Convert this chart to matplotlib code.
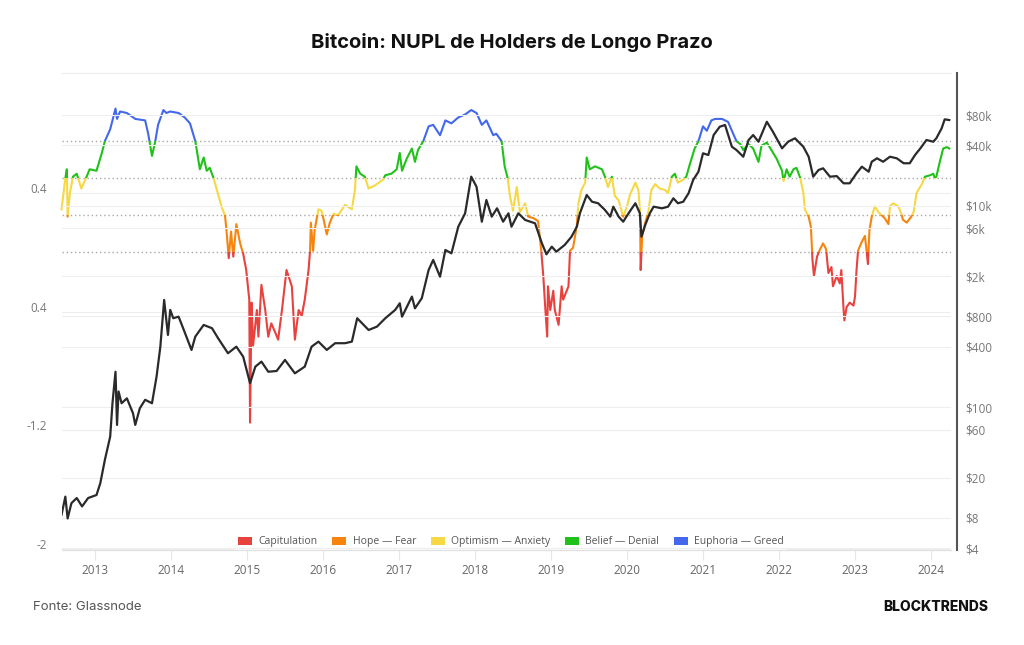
import numpy as np
import matplotlib.pyplot as plt
import matplotlib.transforms as mtransforms
from matplotlib.patches import Rectangle, Patch

# LTH-NUPL (decimal year, value)
nupl_t = [2012.56, 2012.61, 2012.63, 2012.64, 2012.67, 2012.71, 2012.76, 2012.82, 2012.89, 2012.93,
          2013.02, 2013.09, 2013.13, 2013.20, 2013.27, 2013.29, 2013.33, 2013.42, 2013.53, 2013.66,
          2013.70, 2013.75, 2013.79, 2013.83, 2013.90, 2013.94, 2013.99, 2014.10, 2014.18, 2014.25,
          2014.32, 2014.38, 2014.43, 2014.47, 2014.51, 2014.56, 2014.62, 2014.67, 2014.71, 2014.73,
          2014.76, 2014.79, 2014.82, 2014.86, 2014.91, 2014.95, 2014.99, 2015.03, 2015.04, 2015.06,
          2015.08, 2015.13, 2015.15, 2015.19, 2015.24, 2015.28, 2015.32, 2015.37, 2015.41, 2015.46,
          2015.52, 2015.59, 2015.63, 2015.68, 2015.72, 2015.76, 2015.81, 2015.83, 2015.84, 2015.87,
          2015.89, 2015.94, 2015.98, 2016.00, 2016.05, 2016.09, 2016.14, 2016.20, 2016.29, 2016.38,
          2016.42, 2016.44, 2016.49, 2016.55, 2016.60, 2016.68, 2016.79, 2016.82, 2016.90, 2016.97,
          2017.01, 2017.04, 2017.10, 2017.17, 2017.21, 2017.25, 2017.32, 2017.39, 2017.45, 2017.54,
          2017.61, 2017.69, 2017.78, 2017.87, 2017.95, 2018.02, 2018.09, 2018.15, 2018.24, 2018.28,
          2018.35, 2018.39, 2018.43, 2018.46, 2018.50, 2018.55, 2018.59, 2018.66, 2018.70, 2018.77,
          2018.83, 2018.87, 2018.90, 2018.92, 2018.95, 2018.96, 2018.99, 2019.03, 2019.05, 2019.10,
          2019.14, 2019.16, 2019.23, 2019.25, 2019.29, 2019.34, 2019.36, 2019.40, 2019.45, 2019.47,
          2019.51, 2019.58, 2019.67, 2019.71, 2019.75, 2019.80, 2019.84, 2019.89, 2019.95, 2020.00,
          2020.04, 2020.11, 2020.15, 2020.17, 2020.18, 2020.20, 2020.24, 2020.28, 2020.32, 2020.37,
          2020.43, 2020.50, 2020.54, 2020.59, 2020.63, 2020.67, 2020.74, 2020.78, 2020.83, 2020.89,
          2020.94, 2021.00, 2021.05, 2021.11, 2021.16, 2021.25, 2021.33, 2021.38, 2021.44, 2021.49,
          2021.53, 2021.60, 2021.66, 2021.73, 2021.77, 2021.84, 2021.90, 2021.97, 2022.04, 2022.06,
          2022.10, 2022.14, 2022.19, 2022.23, 2022.28, 2022.32, 2022.34, 2022.39, 2022.42, 2022.44,
          2022.46, 2022.50, 2022.54, 2022.58, 2022.62, 2022.65, 2022.69, 2022.71, 2022.76, 2022.80,
          2022.82, 2022.85, 2022.86, 2022.89, 2022.93, 2022.98, 2023.00, 2023.02, 2023.04, 2023.08,
          2023.13, 2023.15, 2023.17, 2023.19, 2023.22, 2023.26, 2023.31, 2023.35, 2023.39, 2023.44,
          2023.46, 2023.50, 2023.57, 2023.61, 2023.63, 2023.68, 2023.74, 2023.77, 2023.81, 2023.88,
          2023.92, 2023.99, 2024.03, 2024.05, 2024.07, 2024.12, 2024.16, 2024.21, 2024.24]
nupl_v = [0.29, 0.50, 0.56, 0.24, 0.40, 0.51, 0.53, 0.43, 0.51, 0.56,
          0.55, 0.67, 0.75, 0.83, 0.97, 0.90, 0.95, 0.94, 0.90, 0.89,
          0.80, 0.65, 0.74, 0.86, 0.96, 0.94, 0.95, 0.94, 0.91, 0.87,
          0.75, 0.56, 0.64, 0.55, 0.57, 0.50, 0.39, 0.30, 0.25, 0.15,
          -0.04, 0.14, -0.03, 0.19, 0.06, -0.01, -0.12, -0.32, -1.15, -0.34,
          -0.63, -0.39, -0.57, -0.22, -0.39, -0.57, -0.48, -0.54, -0.59, -0.39,
          -0.12, -0.23, -0.59, -0.39, -0.43, -0.32, -0.12, 0.01, 0.20, 0.01,
          0.15, 0.29, 0.28, 0.24, 0.12, 0.20, 0.26, 0.25, 0.32, 0.29,
          0.42, 0.58, 0.53, 0.51, 0.43, 0.45, 0.49, 0.52, 0.53, 0.56,
          0.67, 0.55, 0.63, 0.70, 0.61, 0.69, 0.75, 0.85, 0.86, 0.79,
          0.89, 0.87, 0.91, 0.93, 0.96, 0.94, 0.86, 0.89, 0.79, 0.80,
          0.75, 0.58, 0.50, 0.38, 0.28, 0.44, 0.27, 0.33, 0.24, 0.23,
          0.21, 0.02, -0.17, -0.34, -0.57, -0.23, -0.39, -0.26, -0.39, -0.49,
          -0.23, -0.32, -0.23, 0.01, 0.03, 0.18, 0.33, 0.42, 0.47, 0.64,
          0.56, 0.58, 0.56, 0.51, 0.44, 0.51, 0.38, 0.35, 0.24, 0.31,
          0.39, 0.47, 0.42, 0.29, -0.12, 0.11, 0.20, 0.27, 0.42, 0.46,
          0.43, 0.42, 0.40, 0.51, 0.53, 0.47, 0.49, 0.51, 0.60, 0.70,
          0.75, 0.85, 0.82, 0.89, 0.90, 0.90, 0.88, 0.82, 0.75, 0.73,
          0.69, 0.73, 0.70, 0.61, 0.72, 0.74, 0.69, 0.63, 0.55, 0.48,
          0.56, 0.51, 0.56, 0.57, 0.50, 0.40, 0.29, 0.24, 0.17, -0.05,
          -0.16, -0.03, 0.02, 0.06, 0.02, -0.14, -0.10, -0.23, -0.16, -0.21,
          -0.12, -0.39, -0.46, -0.37, -0.34, -0.36, -0.30, -0.12, 0.01, 0.06,
          0.11, 0.02, -0.08, 0.15, 0.24, 0.31, 0.27, 0.25, 0.23, 0.19,
          0.31, 0.33, 0.31, 0.26, 0.22, 0.20, 0.24, 0.27, 0.40, 0.46,
          0.51, 0.52, 0.53, 0.50, 0.51, 0.62, 0.70, 0.71, 0.70]

# BTC price (decimal year, USD)
price_t = [2012.56, 2012.61, 2012.64, 2012.69, 2012.76, 2012.83, 2012.91, 2013.02, 2013.07, 2013.13,
           2013.20, 2013.23, 2013.27, 2013.29, 2013.31, 2013.35, 2013.42, 2013.50, 2013.53, 2013.59,
           2013.66, 2013.75, 2013.81, 2013.86, 2013.91, 2013.96, 2013.99, 2014.03, 2014.10, 2014.16,
           2014.27, 2014.32, 2014.43, 2014.54, 2014.62, 2014.75, 2014.86, 2014.95, 2015.04, 2015.11,
           2015.19, 2015.28, 2015.39, 2015.50, 2015.63, 2015.76, 2015.85, 2015.94, 2016.05, 2016.16,
           2016.29, 2016.38, 2016.45, 2016.60, 2016.71, 2016.82, 2016.95, 2017.01, 2017.04, 2017.17,
           2017.21, 2017.30, 2017.39, 2017.45, 2017.54, 2017.61, 2017.69, 2017.78, 2017.87, 2017.95,
           2018.02, 2018.09, 2018.15, 2018.22, 2018.29, 2018.37, 2018.44, 2018.48, 2018.57, 2018.66,
           2018.79, 2018.88, 2018.94, 2019.01, 2019.07, 2019.18, 2019.27, 2019.34, 2019.38, 2019.47,
           2019.54, 2019.62, 2019.71, 2019.78, 2019.82, 2019.89, 2019.95, 2020.02, 2020.11, 2020.17,
           2020.19, 2020.24, 2020.30, 2020.35, 2020.46, 2020.54, 2020.61, 2020.67, 2020.74, 2020.81,
           2020.87, 2020.94, 2021.00, 2021.07, 2021.14, 2021.22, 2021.29, 2021.38, 2021.44, 2021.53,
           2021.60, 2021.66, 2021.73, 2021.84, 2021.92, 2022.04, 2022.12, 2022.21, 2022.32, 2022.39,
           2022.45, 2022.52, 2022.58, 2022.67, 2022.76, 2022.85, 2022.93, 2023.02, 2023.09, 2023.18,
           2023.22, 2023.29, 2023.37, 2023.46, 2023.55, 2023.64, 2023.72, 2023.79, 2023.86, 2023.94,
           2024.03, 2024.07, 2024.14, 2024.18, 2024.24]
price_v = [8.6, 13.0, 7.9, 11.2, 12.6, 10.4, 12.6, 13.5, 17.7, 30.1,
           51.3, 110, 226, 67, 144, 110, 123, 87.5, 67, 98,
           119, 110, 202, 401, 1166, 524, 929, 768, 796, 611,
           372, 505, 659, 611, 486, 345, 401, 319, 174, 254,
           285, 226, 230, 296, 218, 254, 401, 450, 372, 434,
           434, 450, 768, 587, 634, 768, 929, 1081, 796, 1259,
           964, 1213, 2317, 2911, 1986, 3656, 3388, 6223, 8453, 19540,
           15520, 6980, 11460, 7830, 9480, 6980, 8453, 6223, 8453, 7260,
           6730, 4266, 3311, 3945, 3516, 4102, 4955, 6223, 8453, 12850,
           11020, 10640, 9120, 7830, 9840, 7830, 6980, 8453, 10640, 8453,
           4955, 6470, 8453, 9840, 9480, 9840, 11910, 10640, 11020, 13370,
           18110, 21880, 33340, 32060, 50600, 61200, 63650, 38750, 35940, 30830,
           45190, 50600, 43450, 68550, 54580, 37330, 43450, 46990, 38750, 30830,
           19540, 22750, 23660, 19540, 19800, 16790, 16790, 21090, 24550, 21880,
           27490, 29720, 27490, 30830, 29720, 26550, 26550, 32060, 37330, 45190,
           43450, 46990, 59020, 72440, 71290]

bands = [(-5, 0, '#E8423F'), (0, 0.25, '#F7840F'), (0.25, 0.5, '#F6D845'),
         (0.5, 0.75, '#20C21A'), (0.75, 5, '#4368EC')]
legend_labels = ['Capitulation', 'Hope — Fear', 'Optimism — Anxiety', 'Belief — Denial', 'Euphoria — Greed']
thresholds = [0, 0.25, 0.5, 0.75]
years = list(range(2013, 2025))
price_ticks = [4, 8, 20, 60, 100, 400, 800, 2000, 6000, 10000, 40000, 80000]
price_labels = ['$4', '$8', '$20', '$60', '$100', '$400', '$800', '$2k', '$6k', '$10k', '$40k', '$80k']

plt.rcParams['font.family'] = ['Open Sans', 'DejaVu Sans']

fig = plt.figure(figsize=(10.24, 6.45), dpi=100)
ax = fig.add_axes([62/1024, 1-550/645, (951-62)/1024, (550-73)/645])
ax2 = ax.twinx()

xmin, xmax = 2012.566, 2024.263
ax.set_xlim(xmin, xmax)
ax.set_ylim(-2.01, 1.21)
ax2.set_yscale('log')
ax2.set_ylim(3.84, 209000)

# light grid
for p in price_ticks:
    ax2.axhline(p, color='#eeeeee', lw=0.8, zorder=0)
for v in [-2, -1.2, -0.4, 0.4]:
    ax.axhline(v, color='#eeeeee', lw=0.8, zorder=0)
for v in thresholds:
    ax.axhline(v, color='#a8a8a8', lw=1, ls=(0, (1, 2)), zorder=1)

for lo, hi, c in bands:
    line, = ax.plot(nupl_t, nupl_v, color=c, lw=1.5, zorder=3)
    rect = Rectangle((xmin - 1, lo), xmax - xmin + 2, hi - lo, transform=ax.transData)
    line.set_clip_path(rect)

ax2.plot(price_t, price_v, color='#2a2a2a', lw=1.6, zorder=4)

ax.set_xticks(years)
ax.set_xticklabels([str(y) for y in years])
ax.tick_params(axis='x', length=7, color='#e6e6e6', pad=3, labelsize=8.5, labelcolor='#666666')
ax.set_yticks([-2, -1.2, -0.4, 0.4])
ax.set_yticklabels(['-2', '-1.2', '0.4', '0.4'])
ax.tick_params(axis='y', length=0, pad=11, labelsize=8.5, labelcolor='#777777')
ax2.yaxis.set_minor_locator(plt.NullLocator())
ax2.set_yticks(price_ticks)
ax2.set_yticklabels(price_labels)
ax2.yaxis.set_minor_locator(plt.NullLocator())
ax2.tick_params(axis='y', which='both', length=0, pad=6, labelsize=8.5, labelcolor='#777777')

offset = mtransforms.ScaledTranslation(0, 0.05, fig.dpi_scale_trans)
for tick in ax.yaxis.get_major_ticks() + ax2.yaxis.get_major_ticks():
    for lab in (tick.label1, tick.label2):
        lab.set_transform(lab.get_transform() + offset)

for a in (ax, ax2):
    a.spines['left'].set_visible(False)
    a.spines['top'].set_color('#eeeeee')
    a.spines['bottom'].set_color('#e0e0e0')
    a.spines['right'].set_visible(False)
ax2.spines['right'].set_visible(True)
ax2.spines['right'].set_color('#555555')
ax2.spines['right'].set_linewidth(1.5)
ax2.spines['right'].set_position(('outward', 4))

handles = [Patch(facecolor=c, edgecolor='none') for lo, hi, c in bands]
leg = ax.legend(handles, legend_labels, loc='lower center', bbox_to_anchor=(0.505, -0.012), ncol=5,
                fontsize=7.5, frameon=True, handlelength=1.35, handleheight=0.8, handletextpad=0.6,
                columnspacing=1.4, borderpad=0.3)
leg.get_frame().set_facecolor('white')
leg.get_frame().set_edgecolor('none')
for t in leg.get_texts():
    t.set_color('#555555')
leg.set_zorder(10)

fig.text(0.5, 1-43/645, 'Bitcoin: NUPL de Holders de Longo Prazo', ha='center', va='center',
         fontsize=14.5, fontweight='bold', family=['Inter', 'DejaVu Sans'], color='#111111')
fig.text(33/1024, 1-607/645, 'Fonte: Glassnode', ha='left', va='center', fontsize=9.5,
         family=['Inter', 'DejaVu Sans'], color='#555555')
fig.text(988/1024, 1-607/645, 'BLOCKTRENDS', ha='right', va='center', fontsize=10,
         fontweight='heavy', family=['Inter', 'DejaVu Sans'], color='#111111')

fig.savefig('out.png', dpi=100)
